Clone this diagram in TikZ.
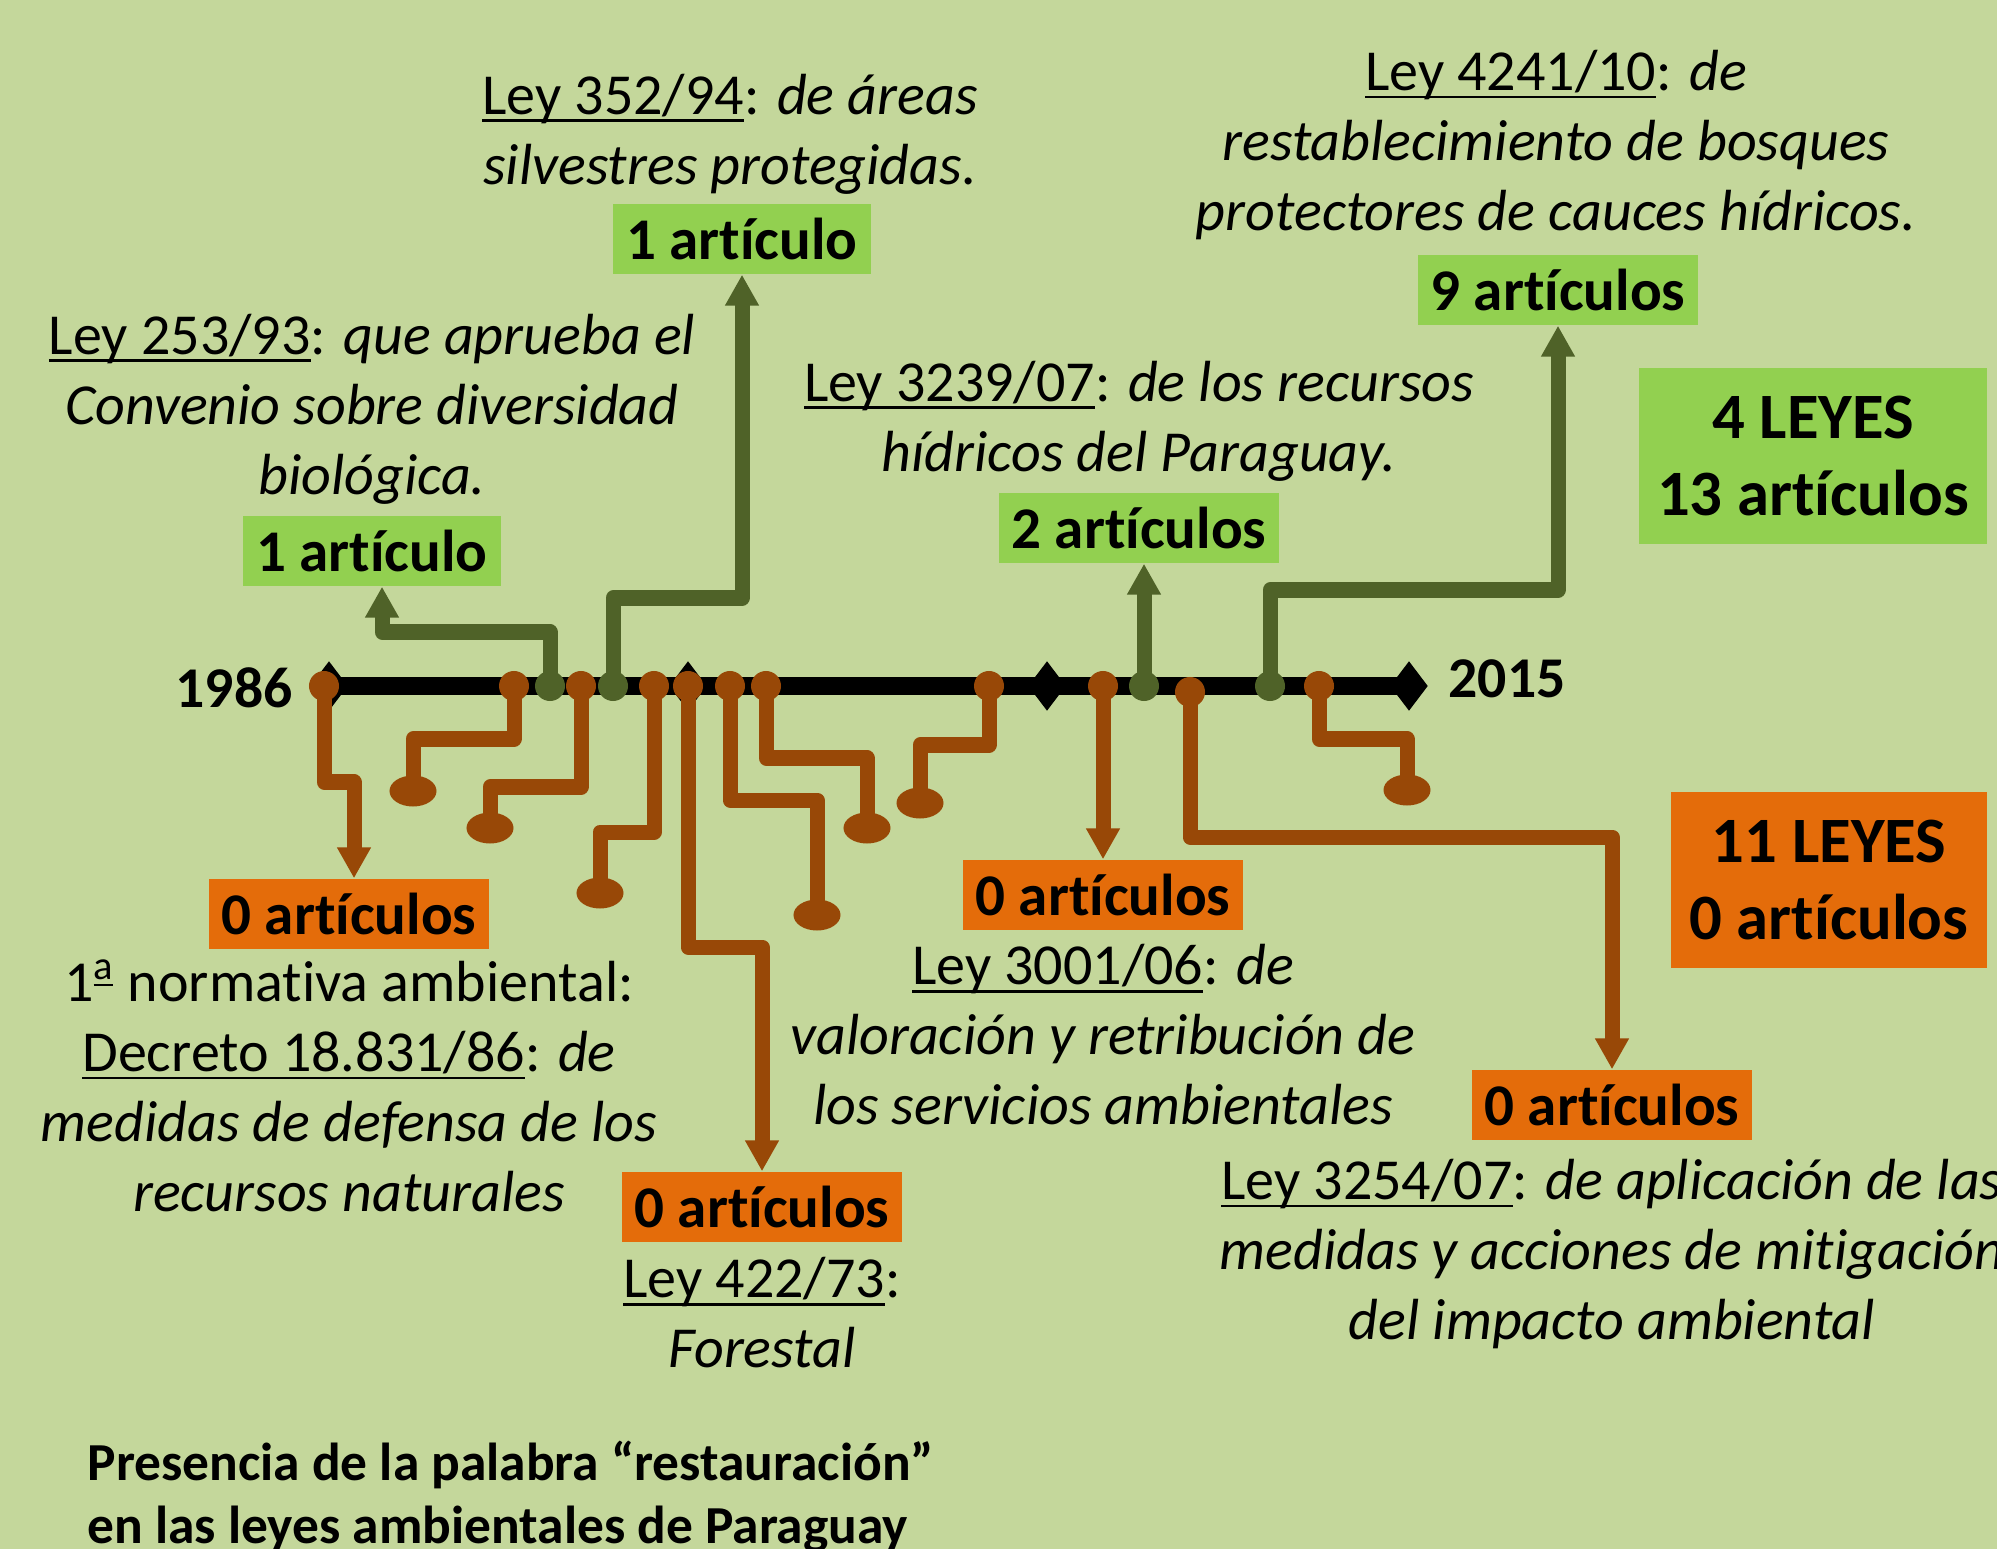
\documentclass[tikz,border=0pt]{standalone}
\usepackage{fontspec}
\setmainfont{Carlito}[Ligatures=NoCommon]
\usetikzlibrary{arrows.meta,shapes.geometric}
\definecolor{bggreen}{RGB}{196,215,155}
\definecolor{boxgreen}{RGB}{146,208,80}
\definecolor{boxorange}{RGB}{228,108,10}
\definecolor{wireorange}{RGB}{152,72,7}
\definecolor{wiregreen}{RGB}{79,98,40}
\newcommand{\lawref}[1]{\leavevmode\setbox0\hbox{#1}\rlap{\rule[-2.2pt]{\wd0}{0.7pt}}\box0}
\begin{document}
\begin{tikzpicture}[x=0.01cm,y=-0.01cm,
  orangewire/.style={line width=1.5mm,wireorange,line join=round},
  greenwire/.style={line width=1.5mm,wiregreen,line join=round},
  arrowed/.style={-{Triangle[length=3.1mm,width=3.2mm]}},
  yeardiamond/.style={diamond,fill=black,minimum width=3.8mm,minimum height=5mm,inner sep=0pt},
  dot/.style={circle,minimum size=3mm,inner sep=0pt},
  odot/.style={dot,fill=wireorange},
  gdot/.style={dot,fill=wiregreen},
  stub/.style={ellipse,fill=wireorange,minimum width=4.7mm,minimum height=3.1mm,inner sep=0pt},
  artbox/.style={font=\bfseries\fontsize{16.8}{20}\selectfont,minimum height=7mm,inner xsep=1.3mm,inner ysep=0pt},
  totalbox/.style={align=center,font=\bfseries\fontsize{18.4}{22}\selectfont,inner sep=0pt},
  law/.style={align=center,font=\fontsize{16.5}{19.9}\selectfont,inner sep=0pt},
  year/.style={font=\bfseries\fontsize{16.4}{20}\selectfont,inner sep=0pt}
]
\useasboundingbox (0,0) rectangle (1997,1549);
\clip (0,0) rectangle (1997,1549);
\fill[bggreen] (0,0) rectangle (1997,1549);

% timeline
\node[yeardiamond] (y1986) at (329,686) {};
\node[yeardiamond] (mid1) at (688,686) {};
\node[yeardiamond] (mid2) at (1047,686) {};
\node[yeardiamond] (y2015) at (1409,686) {};
\draw[line width=1.7mm] (y1986.center) -- (y2015.center);
\node[year] (l1986) at (234,688) {1986};
\node[year] (l2015) at (1507,679) {2015};

% laws on the line
\node[odot] (d1986) at (324,686) {};
\node[odot] (o1) at (514,686) {};
\node[gdot] (d253) at (550,686) {};
\node[odot] (o2) at (581,686) {};
\node[gdot] (d352) at (613,686) {};
\node[odot] (o3) at (654,686) {};
\node[odot] (d422) at (688,686) {};
\node[odot] (o4) at (730,686) {};
\node[odot] (o5) at (766,686) {};
\node[odot] (o6) at (989,686) {};
\node[odot] (d3001) at (1103,686) {};
\node[gdot] (d3239) at (1144,686) {};
\node[odot] (d3254) at (1190,692) {};
\node[gdot] (d4241) at (1270,686) {};
\node[odot] (o7) at (1319,686) {};

\node[stub] (e1) at (413,791) {};
\node[stub] (e2) at (490,828) {};
\node[stub] (e3) at (600,893) {};
\node[stub] (e4) at (817,915) {};
\node[stub] (e5) at (867,828) {};
\node[stub] (e6) at (920,803) {};
\node[stub] (e7) at (1407,790) {};

% article counts
\node[artbox,fill=boxorange] (b1986) at (349,914) {0 artículos};
\node[artbox,fill=boxorange] (b422) at (762,1207) {0 artículos};
\node[artbox,fill=boxorange] (b3001) at (1103,895) {0 artículos};
\node[artbox,fill=boxorange] (b3254) at (1612,1105) {0 artículos};
\node[artbox,fill=boxgreen] (b253) at (372,551) {1 artículo};
\node[artbox,fill=boxgreen] (b352) at (742,239) {1 artículo};
\node[artbox,fill=boxgreen] (b3239) at (1139,528) {2 artículos};
\node[artbox,fill=boxgreen] (b4241) at (1558,290) {9 artículos};

\node[totalbox,fill=boxgreen,minimum width=34.8mm,minimum height=17.5mm] (allgreen) at (1813,456) {4 LEYES\\13 artículos};
\node[totalbox,fill=boxorange,minimum width=31.6mm,minimum height=17.6mm] (allorange) at (1829,880) {11 LEYES\\0 artículos};

\draw[orangewire] (o1.center) -- ++(0,53) -| (e1.center);
\draw[orangewire] (o2.center) -- ++(0,101) -| (e2.center);
\draw[orangewire] (o3.center) -- ++(0,146) -| (e3.center);
\draw[orangewire] (o4.center) -- ++(0,114) -| (e4.center);
\draw[orangewire] (o5.center) -- ++(0,72) -| (e5.center);
\draw[orangewire] (o6.center) -- ++(0,59) -| (e6.center);
\draw[orangewire] (o7.center) -- ++(0,53) -| (e7.center);

\draw[orangewire,arrowed] (d1986.center) -- ++(0,96) -| ([xshift=0.5mm]b1986.north);
\draw[greenwire,arrowed] (d253.center) -- ++(0,-54) -| ([xshift=1mm]b253.south);
\draw[greenwire,arrowed] (d352.center) -- ++(0,-88) -| (b352.south);
\draw[orangewire,arrowed] (d422.center) -- ++(0,261) -| (b422.north);
\draw[orangewire,arrowed] (d3001.center) -- (d3001 |- b3001.north);
\draw[greenwire,arrowed] (d3239.center) -- (d3239 |- b3239.south);
\draw[orangewire,arrowed] (d3254.center) -- ++(0,145) -| (b3254.north);
\draw[greenwire,arrowed] (d4241.center) -- ++(0,-96) -| (b4241.south);

% law texts
\node[law] (t352) at (730,134) {\lawref{Ley 352/94}: \textit{de áreas}\\\textit{silvestres protegidas.}};
\node[law] (t253) at (372,409) {\lawref{Ley 253/93}: \textit{que aprueba el}\\\textit{Convenio sobre diversidad}\\\textit{biológica.}};
\node[law] (t4241) at (1556,145) {\lawref{Ley 4241/10}: \textit{de}\\\textit{restablecimiento de bosques}\\\textit{protectores de cauces hídricos.}};
\node[law] (t3239) at (1139,421) {\lawref{Ley 3239/07}: \textit{de los recursos}\\\textit{hídricos del Paraguay.}};
\node[law] (t1986) at (349,1086) {1\textsuperscript{\underline{a}} normativa ambiental:\\\lawref{Decreto 18.831/86}: \textit{de}\\\textit{medidas de defensa de los}\\\textit{recursos naturales}};
\node[law] (t3001) at (1103,1035) {\lawref{Ley 3001/06}: \textit{de}\\\textit{valoración y retribución de}\\\textit{los servicios ambientales}};
\node[law] (t422) at (762,1313) {\lawref{Ley 422/73}:\\\textit{Forestal}};
\node[law] (t3254) at (1612,1254) {\lawref{Ley 3254/07}: \textit{de aplicación de las}\\\textit{medidas y acciones de mitigación}\\\textit{del impacto ambiental}};

\node[font=\bfseries\fontsize{15.2}{17.9}\selectfont,align=left,anchor=west,inner sep=0pt] (title) at (87,1497) {Presencia de la palabra “restauración”\\en las leyes ambientales de Paraguay};
\end{tikzpicture}
\end{document}
